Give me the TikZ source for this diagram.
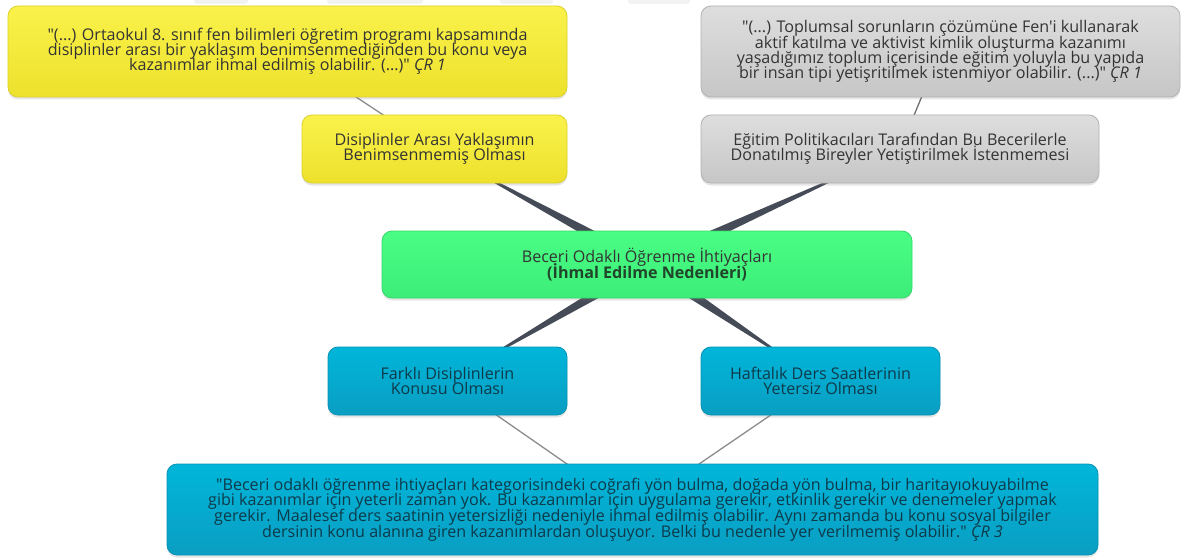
\documentclass[tikz,border=0pt]{standalone}
\usepackage{fontspec}
\setmainfont{Open Sans}[Ligatures=TeXOff]
\usetikzlibrary{calc,shadows}
\pgfdeclarelayer{bg}
\pgfsetlayers{bg,main}

\definecolor{yelTop}{HTML}{FAF24B}
\definecolor{yelBot}{HTML}{EDE12C}
\definecolor{yelLine}{HTML}{DCD12A}
\definecolor{grayTop}{HTML}{DEDEDE}
\definecolor{grayBot}{HTML}{C6C6C6}
\definecolor{grayLine}{HTML}{B2B2B2}
\definecolor{grnTop}{HTML}{4AFD84}
\definecolor{grnBot}{HTML}{3CEE78}
\definecolor{grnLine}{HTML}{34D96A}
\definecolor{bluTop}{HTML}{00B6DA}
\definecolor{bluBot}{HTML}{0A9EC2}
\definecolor{bluLine}{HTML}{0891B3}
\definecolor{txtDark}{HTML}{333333}
\definecolor{txtBlue}{HTML}{0E3A4A}
\definecolor{txtGreen}{HTML}{21452A}
\definecolor{taperCol}{HTML}{454B57}
\definecolor{linkCol}{HTML}{8C8C8C}
\definecolor{markCol}{HTML}{F2F2F2}

% a thick-to-thin connector from the central node (#1) to a child node (#2)
\newcommand\taperlink[2]{%
  \coordinate (tp) at ($(#2)!0.22!(#1)$);
  \fill[taperCol] ($(#1)!6.2pt!90:(#2)$) -- ($(tp)!0.8pt!-90:(#1)$)
     -- ($(tp)!0.8pt!90:(#1)$) -- ($(#1)!6.2pt!-90:(#2)$) -- cycle;
  \draw[taperCol, line width=1.6pt] (tp) -- (#2);}

% tight leading for the box texts
\newcommand\boxfont[1]{\fontsize{16.1}{#1}\selectfont\lineskiplimit=-20pt\relax}

\begin{document}
\begin{tikzpicture}[x=1pt, y=-1pt,
  box/.style={draw, rounded corners=10pt, line width=0.8pt, align=center,
    inner sep=0pt, font=\boxfont{15.2},
    drop shadow={shadow xshift=0pt, shadow yshift=-2.5pt, opacity=0.2}},
  ybox/.style={box, top color=yelTop, bottom color=yelBot, draw=yelLine, text=txtDark},
  gbox/.style={box, top color=grayTop, bottom color=grayBot, draw=grayLine, text=txtDark},
  cbox/.style={box, top color=grnTop, bottom color=grnBot, draw=grnLine, text=txtDark},
  bbox/.style={box, top color=bluTop, bottom color=bluBot, draw=bluLine, text=txtBlue},
  link/.style={draw=linkCol, line width=1.3pt}]

\useasboundingbox (0,0) rectangle (1181,559);

% nodes
\node[ybox, minimum width=559pt, minimum height=91pt] (q1) at (287.5,51.5)
  {"(...) Ortaokul 8. sınıf fen bilimleri öğretim programı kapsamında\\
   disiplinler arası bir yaklaşım benimsenmediğinden bu konu veya\\
   kazanımlar ihmal edilmiş olabilir. (...)" \textit{ÇR 1}};
\node[ybox, minimum width=265pt, minimum height=68pt] (n1) at (434.5,149)
  {Disiplinler Arası Yaklaşımın\\Benimsenmemiş Olması};

\node[gbox, minimum width=479pt, minimum height=91pt] (q2) at (940.5,51.5)
  {"(...) Toplumsal sorunların çözümüne Fen'i kullanarak\\
   aktif katılma ve aktivist kimlik oluşturma kazanımı\\
   yaşadığımız toplum içerisinde eğitim yoluyla bu yapıda\\
   bir insan tipi yetişritilmek istenmiyor olabilir. (...)" \textit{ÇR 1}};
\node[gbox, minimum width=398pt, minimum height=68pt] (n2) at (900,149)
  {Eğitim Politikacıları Tarafından Bu Becerilerle\\
   Donatılmış Bireyler Yetiştirilmek İstenmemesi};

\node[cbox, minimum width=530pt, minimum height=67pt] (c) at (647,264.5)
  {Beceri Odaklı Öğrenme İhtiyaçları\\
   {\bfseries\color{txtGreen}(İhmal Edilme Nedenleri)}};

\node[bbox, minimum width=239pt, minimum height=68pt] (b1) at (447.5,381)
  {Farklı Disiplinlerin\\Konusu Olması};
\node[bbox, minimum width=239pt, minimum height=68pt] (b2) at (820.5,381)
  {Haftalık Ders Saatlerinin\\Yetersiz Olması};

\node[bbox, minimum width=931pt, minimum height=91pt,
      font=\boxfont{15.6}] (q3) at (632.5,509.5)
  {"Beceri odaklı öğrenme ihtiyaçları kategorisindeki coğrafi yön bulma, doğada yön bulma, bir haritayıokuyabilme\\
   gibi kazanımlar için yeterli zaman yok. Bu kazanımlar için uygulama gerekir, etkinlik gerekir ve denemeler yapmak\\
   gerekir. Maalesef ders saatinin yetersizliği nedeniyle ihmal edilmiş olabilir. Aynı zamanda bu konu sosyal bilgiler\\
   dersinin konu alanına giren kazanımlardan oluşuyor. Belki bu nedenle yer verilmemiş olabilir." \textit{ÇR 3}};

% background, faint marks along the top edge, and the connectors behind the boxes
\begin{pgfonlayer}{bg}
  \fill[white] (0,0) rectangle (1181,559);
  \fill[markCol, rounded corners=3pt] (194,-6) rectangle (248,4);
  \fill[markCol, rounded corners=3pt] (327,-6) rectangle (423,4);
  \fill[markCol, rounded corners=3pt] (500,-6) rectangle (553,4);
  \fill[markCol, rounded corners=3pt] (628,-6) rectangle (690,4);
  \draw[link] (q1.center) -- (n1.center);
  \draw[link, draw=linkCol!80!black] (q2.center) -- (n2.center);
  \taperlink{c}{n1}
  \taperlink{c}{n2}
  \taperlink{c}{b1}
  \taperlink{c}{b2}
  \draw[link] (b1.center) -- (q3.center);
  \draw[link] (b2.center) -- (q3.center);
\end{pgfonlayer}
\end{tikzpicture}
\end{document}
